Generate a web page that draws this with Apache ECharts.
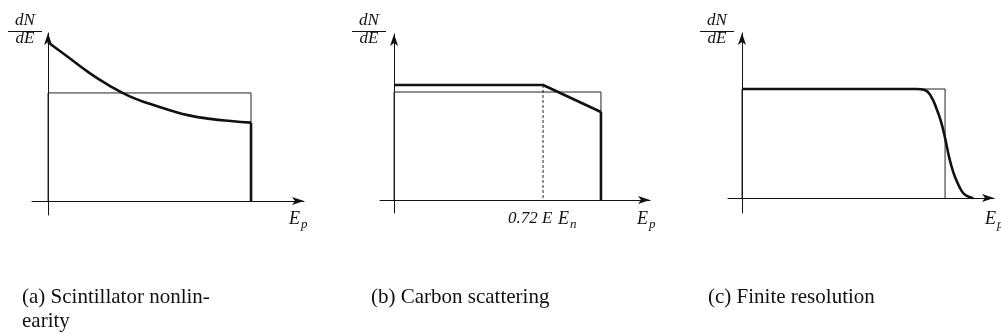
<!DOCTYPE html>
<html>
<head>
<meta charset="utf-8">
<script src="https://cdn.jsdelivr.net/npm/echarts@6/dist/echarts.min.js"></script>
<style>
  html, body { margin: 0; padding: 0; background: #fff; }
  #chart { width: 1001px; height: 334px; }
</style>
</head>
<body>
<div id="chart"></div>
<script>
// Ideal (flat) proton recoil spectrum, a box up to E_n
const idealX = [0, 0, 1, 1];
const idealY = [0, 1, 1, 0];

// (a) spectrum distorted by scintillator nonlinearity
const nonlinX = [0, 0.1, 0.2, 0.3, 0.4, 0.5, 0.6, 0.7, 0.8, 0.9, 1.0];
const nonlinY = [1.47, 1.33, 1.19, 1.07, 0.97, 0.90, 0.84, 0.79, 0.76, 0.74, 0.725];

// (b) spectrum with carbon scattering: flat, then falling above 0.72 E_n
const kneeX = 0.72;
const carbonX = [0, kneeX, 1];
const carbonY = [1.065, 1.065, 0.815];

// (c) spectrum smeared by finite energy resolution
const resX = [0, 0.86, 0.9, 0.93, 0.96, 0.98, 1.0, 1.02, 1.04, 1.06, 1.08, 1.1, 1.13, 1.14];
const resY = [1, 1, 0.99, 0.935, 0.81, 0.70, 0.55, 0.375, 0.24, 0.145, 0.07, 0.027, 0.003, 0];

// Texts
const captions = ['(a) Scintillator nonlin-\nearity', '(b) Carbon scattering', '(c) Finite resolution'];
const kneeLabel = '0.72 E';

const SERIF = '"Liberation Serif", "DejaVu Serif", serif';
const INK = '#111';

const pairs = (xs, ys) => xs.map((x, i) => [x, ys[i]]);

// axis ranges per panel (origin sits at 0,0 so the axes cross there)
const ranges = [
  { x: [-0.079, 1.261], y: [-0.13, 1.555] },
  { x: [-0.068, 1.237], y: [-0.12, 1.537] },
  { x: [-0.069, 1.241], y: [-0.138, 1.514] }
];
const grids = [
  { left: 32, top: 33, width: 272, height: 182 },
  { left: 380, top: 34, width: 270, height: 179 },
  { left: 728, top: 33, width: 266, height: 180 }
];

const axisLine = {
  show: true,
  onZero: true,
  symbol: ['none', 'arrow'],
  symbolSize: [6, 12],
  lineStyle: { color: INK, width: 1 }
};
const bareAxis = {
  type: 'value',
  axisLine: axisLine,
  axisTick: { show: false },
  axisLabel: { show: false },
  splitLine: { show: false }
};

const xAxes = ranges.map((r, i) => Object.assign({}, bareAxis, { gridIndex: i, min: r.x[0], max: r.x[1] }));
const yAxes = ranges.map((r, i) => Object.assign({}, bareAxis, { gridIndex: i, min: r.y[0], max: r.y[1] }));

const thin = { color: '#222', width: 1 };
const thick = { color: INK, width: 2.6 };

function lineSeries(i, data, style, extra) {
  return Object.assign({
    type: 'line',
    xAxisIndex: i,
    yAxisIndex: i,
    data: data,
    showSymbol: false,
    symbol: 'none',
    silent: true,
    animation: false,
    lineStyle: style
  }, extra || {});
}

const series = [
  // ideal boxes
  lineSeries(0, pairs(idealX, idealY), thin, { z: 2 }),
  lineSeries(1, pairs(idealX, idealY), thin, { z: 2 }),
  lineSeries(2, pairs(idealX, idealY), thin, { z: 2 }),
  // (a)
  lineSeries(0, pairs(nonlinX, nonlinY), thick, { z: 3, smooth: 0.5 }),
  lineSeries(0, [[1, nonlinY[nonlinY.length - 1]], [1, 0]], thick, { z: 3 }),
  // (b)
  lineSeries(1, pairs(carbonX, carbonY), thick, { z: 3 }),
  lineSeries(1, [[1, carbonY[carbonY.length - 1]], [1, 0]], thick, { z: 3 }),
  lineSeries(1, [[kneeX, carbonY[1]], [kneeX, 0]], { color: '#222', width: 1, type: [3, 2] }, { z: 2 }),
  // (c)
  lineSeries(2, pairs(resX, resY), thick, { z: 3, smooth: 0.5 })
];

// axis-title fraction dN/dE to the left of each arrow
function fraction(cx) {
  const f = { fontFamily: SERIF, fontStyle: 'italic', fontSize: 17, fill: INK, textAlign: 'center' };
  return [
    { type: 'text', x: cx, y: 12, style: Object.assign({ text: 'dN' }, f) },
    { type: 'line', shape: { x1: cx - 17, y1: 31.5, x2: cx + 17, y2: 31.5 }, style: { stroke: INK, lineWidth: 1 } },
    { type: 'text', x: cx, y: 30, style: Object.assign({ text: 'dE' }, f) }
  ];
}
// italic symbol with subscript
function subscripted(x, y, main, sub) {
  return [
    { type: 'text', x: x, y: y, style: { text: main, fontFamily: SERIF, fontStyle: 'italic', fontSize: 18, fill: INK } },
    { type: 'text', x: x + 12, y: y + 8, style: { text: sub, fontFamily: SERIF, fontStyle: 'italic', fontSize: 13, fill: INK } }
  ];
}
function caption(x, y, text) {
  return { type: 'text', x: x, y: y, style: { text: text, fontFamily: SERIF, fontSize: 21, lineHeight: 24, fill: INK } };
}

const graphic = [].concat(
  fraction(25), fraction(369), fraction(717),
  subscripted(289, 210, 'E', 'p'),
  subscripted(637, 210, 'E', 'p'),
  subscripted(985, 210, 'E', 'p'),
  [{ type: 'text', x: 508, y: 210, style: { text: kneeLabel, fontFamily: SERIF, fontStyle: 'italic', fontSize: 17, fill: INK } }],
  subscripted(558, 210, 'E', 'n'),
  [caption(22, 285, captions[0]), caption(371, 285, captions[1]), caption(708, 285, captions[2])]
);

const chart = echarts.init(document.getElementById('chart'), null, { renderer: 'canvas' });
chart.setOption({
  backgroundColor: '#fff',
  animation: false,
  grid: grids,
  xAxis: xAxes,
  yAxis: yAxes,
  series: series,
  graphic: graphic
});
</script>
</body>
</html>
